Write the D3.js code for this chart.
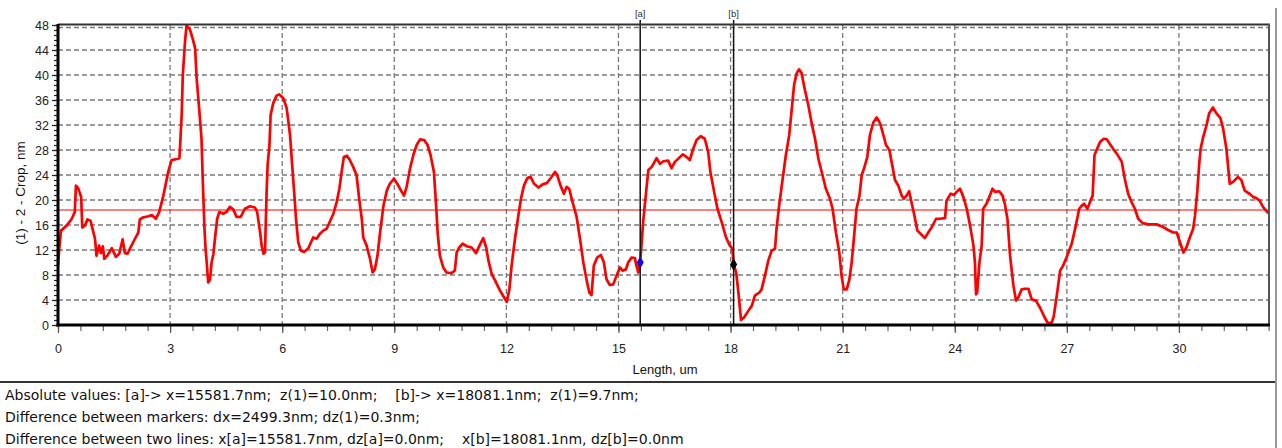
<!DOCTYPE html>
<html>
<head>
<meta charset="utf-8">
<script src="https://cdn.jsdelivr.net/npm/d3@7"></script>
<style>
  html, body { margin: 0; padding: 0; background: #fff; }
  svg { display: block; }
  text { font-family: "Liberation Sans", Arial, sans-serif; }
  text.readout { font-family: "DejaVu Sans", sans-serif; }
</style>
</head>
<body>
<svg id="chart" width="1282" height="448"></svg>
<script>
// Profile section: length (um) and height (nm)
const profileX = [
  0.00,0.04,0.08,0.23,0.37,0.45,0.48,0.54,0.62,0.65,0.72,0.79,0.87,0.99,1.03,1.10,1.15,1.20,1.24,1.32,
  1.44,1.55,1.64,1.73,1.79,1.86,1.94,2.06,2.15,2.19,2.27,2.42,2.51,2.62,2.71,2.82,2.95,3.04,3.13,3.25,
  3.31,3.34,3.40,3.44,3.53,3.60,3.67,3.71,3.77,3.84,3.87,3.92,3.95,3.98,4.02,4.07,4.11,4.16,4.20,4.26,
  4.32,4.42,4.51,4.60,4.69,4.78,4.89,5.00,5.14,5.27,5.33,5.41,5.45,5.50,5.54,5.58,5.61,5.66,5.69,5.76,
  5.85,5.92,6.03,6.12,6.21,6.28,6.32,6.37,6.43,6.50,6.59,6.70,6.83,6.92,7.01,7.10,
  7.19,7.37,7.46,7.53,7.59,7.65,7.73,7.81,7.90,7.99,8.06,8.13,8.17,8.26,8.35,8.42,8.48,8.55,8.62,8.71,
  8.80,8.88,8.99,9.08,9.20,9.26,9.33,9.42,9.51,9.60,9.69,9.80,9.89,9.97,10.06,10.12,10.16,10.22,10.31,10.40,
  10.53,10.62,10.67,10.74,10.83,10.94,11.07,11.19,11.28,11.38,11.46,11.52,11.61,11.70,11.83,11.94,12.01,12.08,12.14,12.23,
  12.32,12.39,12.47,12.56,12.65,12.74,12.86,12.97,13.08,13.20,13.30,13.36,13.45,13.54,13.61,13.68,13.77,13.88,13.97,14.06,
  14.15,14.22,14.28,14.34,14.43,14.53,14.61,14.68,14.77,14.86,14.95,15.04,15.11,15.20,15.26,15.35,15.44,15.48,15.53,15.56,15.5817,
  15.66,15.74,15.80,15.89,16.02,16.11,16.20,16.33,16.42,16.51,16.60,16.72,16.82,16.91,17.00,17.09,17.20,17.31,17.40,17.46,
  17.56,17.65,17.76,17.88,17.98,18.05,18.0811,18.15,18.21,18.28,18.36,18.48,18.57,18.65,18.77,18.83,18.92,19.01,19.10,19.19,
  19.23,19.30,19.39,19.48,19.57,19.64,19.70,19.77,19.83,19.90,19.99,20.08,20.17,20.26,20.35,20.46,20.55,20.66,20.73,20.82,
  20.91,20.97,21.03,21.11,21.18,21.24,21.30,21.37,21.45,21.51,21.57,21.66,21.73,21.82,21.91,22.00,22.09,22.16,22.25,22.31,
  22.40,22.49,22.58,22.64,22.71,22.78,22.85,22.91,23.00,23.12,23.20,23.29,23.38,23.50,23.60,23.74,23.78,23.89,23.98,24.05,
  24.14,24.23,24.32,24.41,24.50,24.54,24.57,24.60,24.66,24.72,24.76,24.85,24.94,25.01,25.08,25.19,25.28,25.34,25.41,25.48,
  25.57,25.64,25.70,25.79,25.88,25.97,26.06,26.17,26.28,26.39,26.48,26.59,26.65,26.73,26.82,26.90,26.99,27.13,27.24,27.33,
  27.40,27.46,27.55,27.62,27.69,27.74,27.81,27.89,27.99,28.07,28.17,28.26,28.35,28.47,28.55,28.64,28.73,28.82,28.91,29.03,
  29.18,29.40,29.49,29.60,29.71,29.85,29.94,30.03,30.12,30.20,30.29,30.38,30.43,30.49,30.54,30.58,30.65,30.74,30.81,30.91,
  31.00,31.11,31.18,31.27,31.36,31.45,31.58,31.67,31.76,31.89,31.98,32.07,32.16,32.25,32.36,32.41
];
const profileZ = [
  9.5,12.7,15.1,15.9,17.0,18.1,22.3,21.9,20.5,15.6,15.9,16.9,16.7,13.8,11.1,12.7,11.5,12.6,10.6,11.1,
  12.3,10.9,11.4,13.7,11.5,11.4,12.4,13.8,14.8,16.9,17.2,17.4,17.6,17.0,18.1,20.7,24.5,26.4,26.5,26.7,
  33.6,40.0,45.4,47.9,47.3,45.9,44.3,39.5,35.2,29.9,24.0,15.4,12.2,10.0,6.8,7.3,10.0,11.4,13.8,17.0,
  18.1,17.8,18.1,18.9,18.5,17.3,17.3,18.6,19.0,18.8,18.1,14.8,12.7,11.4,11.6,20.7,25.6,28.8,33.6,35.5,
  36.7,36.9,36.3,34.7,30.4,24.5,21.3,17.0,13.2,11.9,11.7,12.3,14.0,13.8,14.6,15.1,
  15.4,17.8,19.7,21.8,24.5,26.9,27.1,26.4,25.3,24.0,20.2,17.0,14.0,12.7,10.6,8.4,8.9,11.1,14.8,19.1,
  21.5,22.6,23.4,22.6,21.3,20.7,22.1,25.0,27.2,28.8,29.7,29.6,28.8,27.2,24.5,19.1,14.8,11.1,9.2,8.4,
  8.3,8.7,11.6,12.4,13.0,12.6,12.4,11.5,12.7,13.9,12.4,10.3,8.1,7.1,5.5,4.4,3.7,5.7,9.5,13.8,
  17.5,20.2,22.3,23.5,23.7,22.6,22.0,22.5,22.7,23.6,24.5,24.0,22.3,21.0,22.1,21.8,19.7,17.3,13.8,10.0,
  7.1,5.2,4.8,9.5,10.8,11.2,10.0,7.3,6.4,6.5,7.9,9.2,8.7,8.9,10.0,10.8,10.7,9.5,8.4,10.0,10.0,
  16.5,21.3,24.8,25.3,26.7,25.8,26.2,26.3,25.1,26.1,26.6,27.3,26.9,26.4,28.2,29.6,30.2,29.8,27.7,24.5,
  21.3,18.6,16.5,14.0,12.7,12.2,9.7,8.4,5.2,0.8,1.2,2.3,3.1,4.7,5.2,5.7,7.9,10.3,11.9,12.2,
  15.4,19.1,23.2,27.2,30.4,34.7,38.4,40.3,40.9,40.3,37.6,35.2,32.3,29.8,26.6,24.0,21.8,20.2,18.6,14.8,
  11.6,7.9,5.7,5.7,7.3,10.0,13.8,18.6,20.7,24.0,25.0,26.9,30.4,32.4,33.2,32.3,30.4,28.8,28.0,26.1,
  23.2,22.3,20.7,20.2,20.7,21.4,19.4,17.8,15.1,14.4,13.9,14.8,15.6,17.0,17.0,17.1,19.9,21.0,20.8,21.3,
  21.8,20.5,18.6,15.9,12.7,10.0,4.9,5.2,10.0,12.7,18.6,19.4,20.7,21.8,21.3,21.4,20.7,19.4,17.0,11.1,
  6.3,3.9,4.4,5.7,5.8,5.8,4.1,3.9,2.8,1.4,0.4,0.3,1.4,4.7,8.7,9.5,10.8,13.0,15.9,18.6,
  19.1,19.4,18.6,19.7,20.7,27.2,28.2,29.3,29.8,29.7,28.8,28.0,27.3,26.1,23.4,21.0,19.7,18.6,17.0,16.3,
  16.1,16.1,15.9,15.6,15.2,14.8,14.8,13.2,11.6,12.4,14.0,15.4,17.5,21.3,25.6,28.2,30.1,32.0,33.9,34.8,
  33.9,33.1,31.5,28.2,22.6,22.9,23.7,23.2,21.5,21.0,20.5,20.3,19.9,18.9,18.1,17.9
];

// Average level of the section, nm
const meanLevel = [18.4];

// Axis ticks
const xTicks = [0, 3, 6, 9, 12, 15, 18, 21, 24, 27, 30];
const xMinorStep = 0.6;
const yTicks = [0, 4, 8, 12, 16, 20, 24, 28, 32, 36, 40, 44, 48];
const yMinorStep = 0.8;

// Cursor markers
const markerNames = ["[a]", "[b]"];
const markerX = [15.5817, 18.0811];   // um
const markerZ = [10.0, 9.7];          // nm
const markerColors = ["#1010d0", "#000000"];

// Axis titles and readout lines
const xTitle = "Length, um";
const yTitle = "(1) - 2 - Crop, nm";
const readout = [
  "Absolute values: [a]-> x=15581.7nm;  z(1)=10.0nm;    [b]-> x=18081.1nm;  z(1)=9.7nm;",
  "Difference between markers: dx=2499.3nm; dz(1)=0.3nm;",
  "Difference between two lines: x[a]=15581.7nm, dz[a]=0.0nm;    x[b]=18081.1nm, dz[b]=0.0nm"
];

const svg = d3.select("#chart");
const plot = { left: 58, right: 1269, top: 25, bottom: 325 };

const x = d3.scaleLinear().domain([0, 32.41]).range([plot.left, plot.right]);
const y = d3.scaleLinear().domain([0, 48]).range([plot.bottom, plot.top]);

// Dashed grid
const grid = svg.append("g").attr("stroke", "#7a7a7a").attr("stroke-width", 1.3)
  .attr("stroke-dasharray", "5,3").attr("fill", "none");
grid.selectAll("line.h").data(yTicks.filter(v => v > 0 && v < 48)).join("line")
  .attr("x1", plot.left).attr("x2", plot.right)
  .attr("y1", d => y(d)).attr("y2", d => y(d));
grid.append("line").attr("x1", plot.left).attr("x2", plot.right)
  .attr("y1", y(48) + 2.5).attr("y2", y(48) + 2.5);
grid.selectAll("line.v").data(xTicks.filter(v => v > 0)).join("line")
  .attr("x1", d => x(d)).attr("x2", d => x(d))
  .attr("y1", plot.top).attr("y2", plot.bottom);

// Mean level line
svg.append("line")
  .attr("x1", plot.left).attr("x2", plot.right)
  .attr("y1", y(meanLevel[0])).attr("y2", y(meanLevel[0]))
  .attr("stroke", "#ff0000").attr("stroke-width", 1.2);

// Profile curve
const pts = profileX.map((v, i) => [v, profileZ[i]]);
svg.append("path")
  .datum(pts)
  .attr("fill", "none")
  .attr("stroke", "#ff0000")
  .attr("stroke-width", 2.7)
  .attr("stroke-linejoin", "round")
  .attr("d", d3.line().x(d => x(d[0])).y(d => y(d[1])));

// Marker lines, labels and points
markerX.forEach((mx, i) => {
  svg.append("line")
    .attr("x1", x(mx)).attr("x2", x(mx))
    .attr("y1", 20).attr("y2", plot.bottom)
    .attr("stroke", "#111").attr("stroke-width", 1.5);
  svg.append("text")
    .attr("x", x(mx)).attr("y", 17)
    .attr("text-anchor", "middle")
    .attr("font-size", 9.5)
    .attr("fill", "#333")
    .text(markerNames[i]);
  svg.append("path")
    .attr("transform", `translate(${x(mx)},${y(markerZ[i])})`)
    .attr("d", d3.symbol().type(d3.symbolDiamond).size(44)())
    .attr("fill", markerColors[i]);
});

// Plot frame: thin top/right, heavy left/bottom axes
svg.append("line").attr("x1", plot.left).attr("x2", plot.right + 1)
  .attr("y1", plot.top - 0.5).attr("y2", plot.top - 0.5)
  .attr("stroke", "#333").attr("stroke-width", 1.8);
svg.append("line").attr("x1", plot.right).attr("x2", plot.right)
  .attr("y1", plot.top - 1).attr("y2", plot.bottom)
  .attr("stroke", "#555").attr("stroke-width", 2);

// Bottom axis
const xMinor = d3.range(0, 32.41, xMinorStep);
const xAxisMinor = svg.append("g").attr("transform", `translate(0,${plot.bottom})`)
  .call(d3.axisBottom(x).tickValues(xMinor).tickSize(6).tickFormat(""));
xAxisMinor.select(".domain").remove();
xAxisMinor.selectAll(".tick line").attr("stroke", "#666").attr("stroke-width", 1.2);

const xAxis = svg.append("g").attr("transform", `translate(0,${plot.bottom})`)
  .call(d3.axisBottom(x).tickValues(xTicks).tickSize(8).tickPadding(11).tickFormat(d3.format("d")));
xAxis.select(".domain").remove();
xAxis.selectAll(".tick line").attr("stroke", "#555").attr("stroke-width", 1.2);
xAxis.selectAll(".tick text").attr("font-size", 12.5).attr("fill", "#222");

// Left axis
const yMinor = d3.range(0, 48.01, yMinorStep);
const yAxisMinor = svg.append("g").attr("transform", `translate(${plot.left},0)`)
  .call(d3.axisLeft(y).tickValues(yMinor).tickSize(4).tickFormat(""));
yAxisMinor.select(".domain").remove();
yAxisMinor.selectAll(".tick line").attr("stroke", "#222").attr("stroke-width", 1.2);

const yAxis = svg.append("g").attr("transform", `translate(${plot.left},0)`)
  .call(d3.axisLeft(y).tickValues(yTicks).tickSize(6).tickPadding(3).tickFormat(d3.format("d")));
yAxis.select(".domain").remove();
yAxis.selectAll(".tick line").attr("stroke", "#222").attr("stroke-width", 1.2);
yAxis.selectAll(".tick text").attr("font-size", 12.5).attr("fill", "#222");

svg.append("line").attr("x1", plot.left).attr("x2", plot.left)
  .attr("y1", plot.top - 1).attr("y2", plot.bottom + 1.5)
  .attr("stroke", "#000").attr("stroke-width", 3);
svg.append("line").attr("x1", plot.left - 1.5).attr("x2", plot.right + 1)
  .attr("y1", plot.bottom).attr("y2", plot.bottom)
  .attr("stroke", "#000").attr("stroke-width", 3);

// Axis titles
svg.append("text")
  .attr("x", 665).attr("y", 374)
  .attr("text-anchor", "middle")
  .attr("font-size", 13)
  .attr("fill", "#111")
  .text(xTitle);
svg.append("text")
  .attr("transform", `translate(25,${(plot.top + plot.bottom) / 2 + 18}) rotate(-90)`)
  .attr("text-anchor", "middle")
  .attr("font-size", 13.5)
  .attr("fill", "#111")
  .text(yTitle);

// Panel separators
svg.append("line").attr("x1", 0).attr("x2", 1276).attr("y1", 382).attr("y2", 382)
  .attr("stroke", "#333").attr("stroke-width", 2);
svg.append("line").attr("x1", 1276).attr("x2", 1276).attr("y1", 8).attr("y2", 448)
  .attr("stroke", "#999").attr("stroke-width", 2);

// Readout lines
svg.selectAll("text.readout").data(readout).join("text")
  .attr("class", "readout")
  .attr("x", 5)
  .attr("y", (d, i) => 400 + i * 22)
  .attr("font-size", 14)
  .attr("fill", "#111")
  .attr("xml:space", "preserve")
  .style("white-space", "pre")
  .text(d => d);
</script>
</body>
</html>
